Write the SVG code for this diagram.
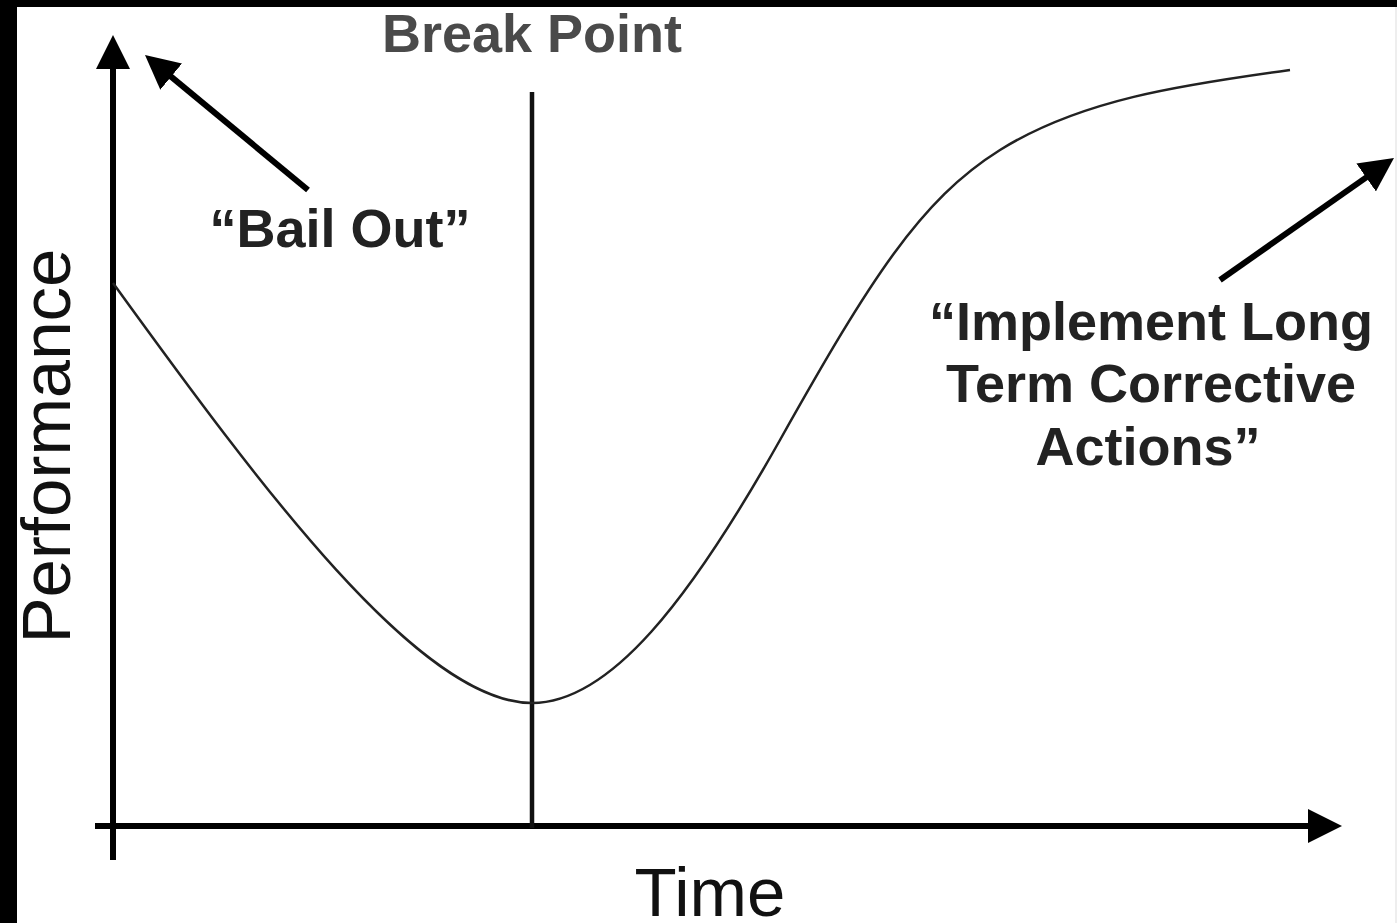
<svg xmlns="http://www.w3.org/2000/svg" width="1397" height="923" viewBox="0 0 1397 923">
<style>
.bold{font-family:"Liberation Sans",Arial,sans-serif;font-weight:bold;font-size:54px;text-anchor:middle}
.axislbl{font-family:"Liberation Sans",Arial,sans-serif;font-size:69px;fill:#111;text-anchor:middle}
.axis{stroke:#000;stroke-width:6;fill:none}
.ann{stroke:#000;stroke-width:6;fill:none}
.curve{stroke:#222;stroke-width:2.5;fill:none}
</style>
<defs>
<marker id="ah" markerUnits="userSpaceOnUse" markerWidth="34" markerHeight="34" refX="8" refY="17" orient="auto" viewBox="0 0 34 34">
<path d="M0,0 L34,17 L0,34 z" fill="#000"/>
</marker>
</defs>
<rect x="0" y="0" width="1397" height="923" fill="#fff"/>
<rect x="0" y="0" width="1397" height="7" fill="#000"/>
<rect x="0" y="0" width="17" height="923" fill="#000"/>
<line x1="1396" y1="7" x2="1396" y2="923" stroke="#ddd" stroke-width="1"/>
<g id="axes">
<line class="axis" x1="113" y1="860" x2="113" y2="61" marker-end="url(#ah)"/>
<line class="axis" x1="95" y1="826" x2="1316" y2="826" marker-end="url(#ah)"/>
</g>
<g id="breakline">
<line x1="532" y1="92" x2="532" y2="828" stroke="#111" stroke-width="4.5"/>
</g>
<g id="performance-curve">
<path class="curve" d="M113,283 C260,486 420,703 532,703 C610,703 690,600 780,440 C870,280 920,200 1000,150 C1080,100 1180,85 1290,70"/>
</g>
<g id="connectors">
<line class="ann" x1="308" y1="190" x2="165" y2="71.6" marker-end="url(#ah)"/>
<line class="ann" x1="1220" y1="280" x2="1372.7" y2="172.9" marker-end="url(#ah)"/>
</g>
<g id="label-break">
<text class="bold" x="532" y="52" fill="#4a4a4a">Break Point</text>
</g>
<g id="label-bail">
<text class="bold" x="340" y="247" fill="#222">“Bail Out”</text>
</g>
<g id="label-implement">
<text class="bold" fill="#222"><tspan x="1151" y="340">“Implement Long</tspan><tspan x="1151" y="402">Term Corrective</tspan><tspan x="1148" y="465">Actions”</tspan></text>
</g>
<g id="label-time">
<text class="axislbl" x="710" y="916">Time</text>
</g>
<g id="label-performance">
<text class="axislbl" transform="translate(70,446) rotate(-90)">Performance</text>
</g>
</svg>
